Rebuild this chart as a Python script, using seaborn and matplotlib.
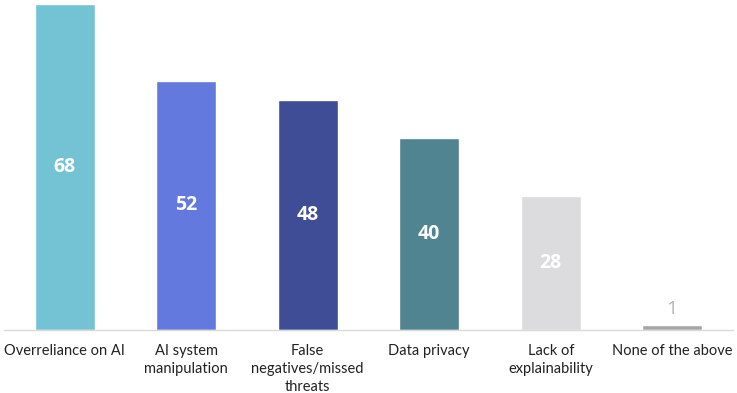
import matplotlib
matplotlib.use("Agg")
import matplotlib.pyplot as plt
import seaborn as sns
import pandas as pd
import numpy as np

# Survey results: concerns about AI in security
categories = ["Overreliance on AI", "AI system\nmanipulation", "False\nnegatives/missed\nthreats",
              "Data privacy", "Lack of\nexplainability", "None of the above"]
values = [68, 52, 48, 40, 28, 1]
colors = ["#74C3D5", "#6479DD", "#3F4D96", "#4F8490", "#DCDCDE", "#A6A6A6"]

sns.set_theme(style="white")
plt.rcParams["font.family"] = ["Lato", "DejaVu Sans"]

df = pd.DataFrame({"category": categories, "value": values})

fig = plt.figure(figsize=(7.37, 3.93), dpi=100)
ax = fig.add_axes([4 / 737, 63 / 393, 729 / 737, 326 / 393])

sns.barplot(data=df, x="category", y="value", hue="category", palette=colors,
            width=0.49, legend=False, ax=ax, saturation=1)

ax.set_ylim(0, 68)
ax.set_xlim(-0.5, len(categories) - 0.5)
ax.set_xlabel("")
ax.set_ylabel("")
ax.set_yticks([])

for s in ["top", "right", "left"]:
    ax.spines[s].set_visible(False)
ax.spines["bottom"].set_color("#D9D9D9")
ax.spines["bottom"].set_linewidth(1)

ax.set_xticks(np.arange(-0.5, len(categories)), minor=True)
ax.tick_params(axis="x", which="minor", length=5, color="#D9D9D9", width=1, direction="out")
ax.tick_params(axis="x", which="major", length=0, pad=10, labelsize=10.5, colors="#222222")
for lbl in ax.get_xticklabels():
    lbl.set_linespacing(1.35)
    lbl.set_verticalalignment("top")

for i, v in enumerate(values):
    if v > 5:
        ax.text(i, v / 2, str(v), ha="center", va="center", color="white",
                fontsize=14, fontweight="bold", family=["Open Sans", "DejaVu Sans"])
    else:
        ax.text(i, v + 1.5, str(v), ha="center", va="bottom", color="#B5B5B5",
                fontsize=14, family=["Open Sans", "DejaVu Sans"])

fig.savefig("out.png", dpi=100)
